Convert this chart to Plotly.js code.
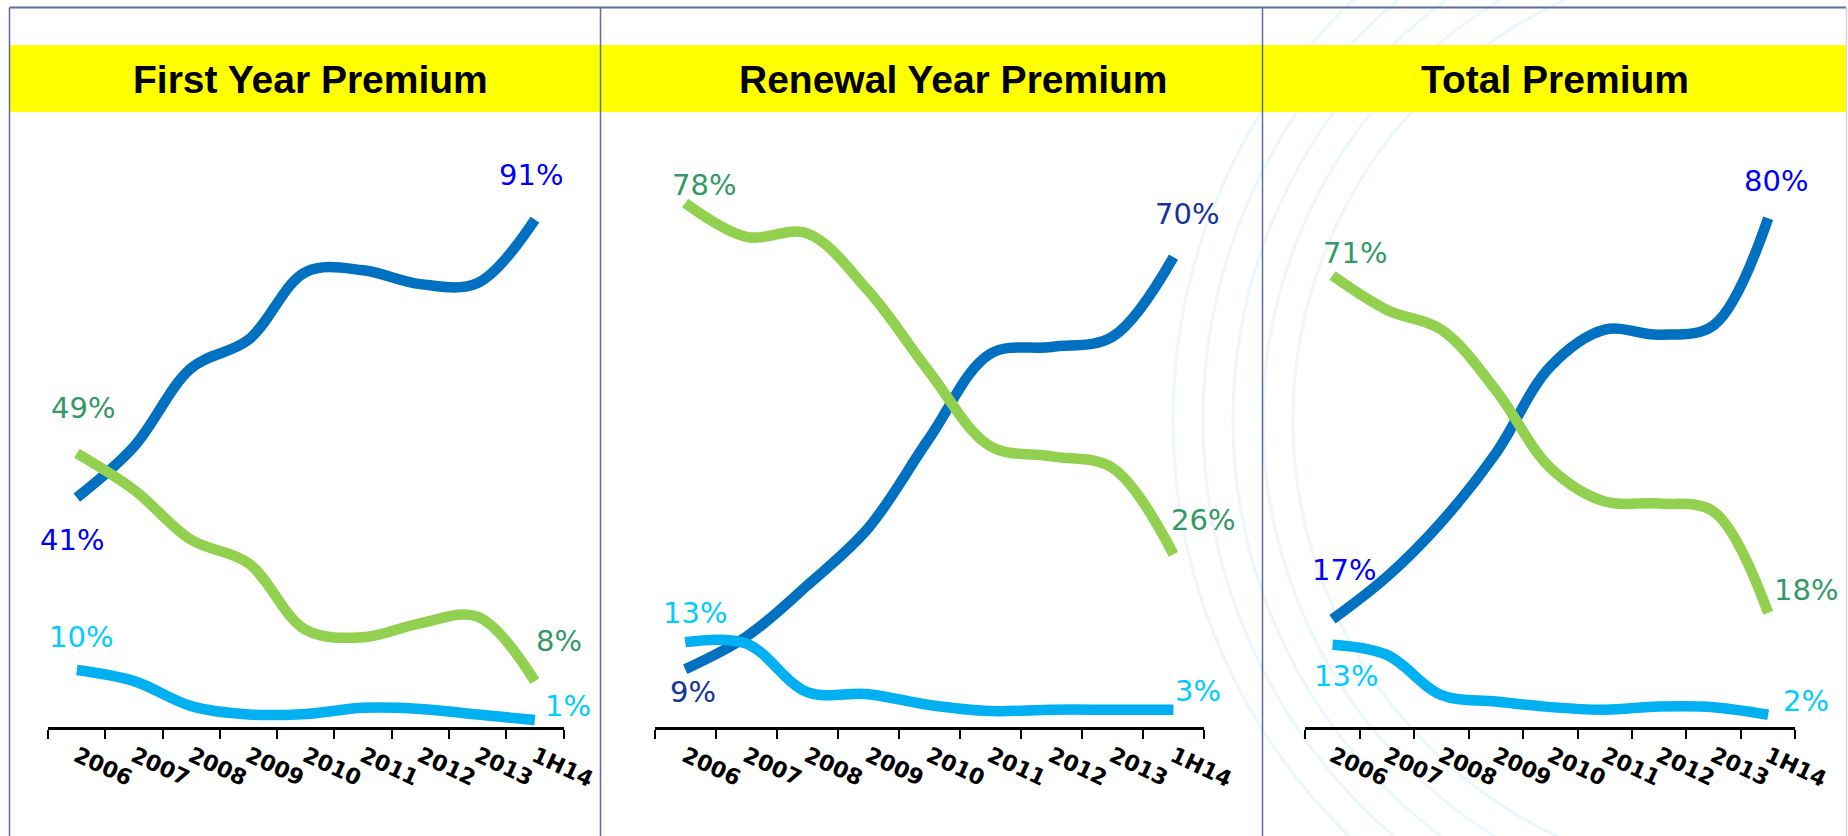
<!DOCTYPE html>
<html>
<head>
<meta charset="utf-8">
<script src="https://cdn.plot.ly/plotly-3.0.1.min.js"></script>
<style>
html,body{margin:0;padding:0;background:#ffffff;}
#chart{width:1848px;height:836px;}
</style>
</head>
<body>
<div id="chart"></div>
<script>
// ---------------- DATA ----------------
const years = ['2006','2007','2008','2009','2010','2011','2012','2013','1H14'];
const panelTitles = ['First Year Premium','Renewal Year Premium','Total Premium'];

// First Year Premium (share, %)
const fypBlue  = [41, 50.2, 64.3, 69.4, 81.6, 81.9, 79.4, 79.6, 91];
const fypGreen = [49, 42.4, 33.4, 29.2, 17.2, 15.9, 18.4, 19.6, 8];
const fypCyan  = [10, 8.0, 3.5, 2.0, 2.1, 3.2, 3.0, 2.0, 1];

// Renewal Year Premium (share, %)
const rypBlue  = [9, 13.8, 21.4, 29.9, 43.2, 55.7, 56.7, 58.2, 70];
const rypGreen = [78, 73.0, 73.5, 65.0, 53.0, 42.0, 40.5, 38.8, 26];
const rypCyan  = [13, 12.8, 5.6, 5.3, 3.7, 2.8, 3.0, 3.0, 3];

// Total Premium (share, %)
const tpBlue  = [17, 23.7, 32.3, 43.1, 56.7, 62.5, 61.7, 63.2, 80];
const tpGreen = [71, 65.6, 62.5, 53.0, 40.8, 35.5, 35.2, 33.9, 18];
const tpCyan  = [13, 11.4, 5.1, 4.1, 3.2, 2.8, 3.3, 3.2, 2];

// ---------------- STYLE / LAYOUT ----------------
const W = 1848, H = 836;
const px = x => x / W;
const py = y => 1 - y / H;

const lineColors = {blue:'#0070C0', green:'#92D050', cyan:'#00B0F0'};
const panels = [
  {title: panelTitles[0], series:{blue:fypBlue, green:fypGreen, cyan:fypCyan},
   xdom:[48.2, 563.5], yrange:[-0.25, 107.12], titleX:310,
   labelColor:{blue:'#0000FF', green:'#339966', cyan:'#00CCFF'},
   offsets:{ blue:[[-5,-42],[-4,45]], green:[[6,45],[24,40]], cyan:[[4,33],[33,14]] }},
  {title: panelTitles[1], series:{blue:rypBlue, green:rypGreen, cyan:rypCyan},
   xdom:[654.7, 1204], yrange:[0.44, 88.81], titleX:953.5,
   labelColor:{blue:'#14339C', green:'#339966', cyan:'#00CCFF'},
   offsets:{ blue:[[8,-23],[14,43]], green:[[19,18],[30,34]], cyan:[[10,29],[25,19]] }},
  {title: panelTitles[2], series:{blue:tpBlue, green:tpGreen, cyan:tpCyan},
   xdom:[1305.3, 1795.4], yrange:[0.08, 93.87], titleX:1555,
   labelColor:{blue:'#0000FF', green:'#339966', cyan:'#00CCFF'},
   offsets:{ blue:[[11,49],[8,37]], green:[[22,23],[38,23]], cyan:[[13,-31],[38,14]] }}
];

const plotTop = 130, plotBottom = 727;
const traces = [];
const annotations = [];
const layout = {
  width: W, height: H,
  margin: {l:0, r:0, t:0, b:0},
  paper_bgcolor: '#ffffff',
  plot_bgcolor: 'rgba(0,0,0,0)',
  showlegend: false,
  shapes: [],
  annotations: annotations
};

// faint watermark arcs
[460, 490, 520, 550, 580].forEach(r => {
  const cx = 1753, cy = 420;
  layout.shapes.push({type:'circle', xref:'paper', yref:'paper', layer:'below',
    x0:px(cx - r), x1:px(cx + r), y0:py(cy + r), y1:py(cy - r),
    line:{color:'rgba(200,228,248,0.35)', width:3}});
});
// yellow title band
layout.shapes.push({type:'rect', xref:'paper', yref:'paper', layer:'below',
  x0:px(10), x1:px(1846), y0:py(112), y1:py(45),
  fillcolor:'#FFFF00', line:{width:0}});
// frame lines
const frameColor = '#5E6E9E';
layout.shapes.push({type:'rect', xref:'paper', yref:'paper', layer:'below',
  x0:px(1847), x1:px(1848), y0:py(836), y1:py(0), fillcolor:'#ffffff', line:{width:0}});
layout.shapes.push({type:'line', xref:'paper', yref:'paper', layer:'below',
  x0:px(9.5), x1:px(1846), y0:py(7.5), y1:py(7.5), line:{color:frameColor, width:1.8}});
[9.5, 600.5, 1262.5].forEach(x => {
  layout.shapes.push({type:'line', xref:'paper', yref:'paper', layer:'below',
    x0:px(x), x1:px(x), y0:py(7.5), y1:py(836), line:{color:frameColor, width:1.5}});
});
layout.shapes.push({type:'line', xref:'paper', yref:'paper', layer:'below',
  x0:px(1846.5), x1:px(1846.5), y0:py(7.5), y1:py(836), line:{color:'#D4D6DE', width:1.5}});

const order = ['blue','green','cyan'];
panels.forEach((p, i) => {
  const n = i === 0 ? '' : String(i + 1);
  const xa = 'x' + n, ya = 'y' + n;
  order.forEach(key => {
    traces.push({
      type:'scatter', mode:'lines', x:years, y:p.series[key],
      xaxis:xa, yaxis:ya, hoverinfo:'skip',
      line:{color:lineColors[key], width:10.5, shape:'spline', smoothing:1}
    });
    const vals = p.series[key];
    const ends = [0, vals.length - 1];
    ends.forEach((idx, k) => {
      annotations.push({
        xref:xa, yref:ya, x:idx, y:vals[idx],
        text: Math.round(vals[idx]) + '%', showarrow:false,
        xanchor:'center', yanchor:'middle',
        xshift:p.offsets[key][k][0], yshift:p.offsets[key][k][1],
        font:{family:'DejaVu Sans, Verdana, sans-serif', size:29, color:p.labelColor[key]}
      });
    });
  });
  layout['xaxis' + n] = {
    domain:[px(p.xdom[0]), px(p.xdom[1])], anchor:ya,
    type:'category', categoryorder:'array', categoryarray:years,
    range:[-0.5, years.length - 0.5],
    showline:true, linecolor:'#000000', linewidth:3,
    ticks:'outside', tickson:'boundaries', ticklen:9, tickwidth:2, tickcolor:'#000000',
    tickangle:25, ticklabelstandoff:5,
    tickfont:{family:'DejaVu Sans, Verdana, sans-serif', size:22, color:'#000000', weight:'bold'},
    showgrid:false, zeroline:false, fixedrange:true
  };
  layout['yaxis' + n] = {
    domain:[py(plotBottom), py(plotTop)], anchor:xa,
    range:p.yrange, visible:false, showgrid:false, zeroline:false, fixedrange:true
  };
  annotations.push({
    xref:'paper', yref:'paper', x:px(p.titleX), y:py(79),
    text:'<b>' + p.title + '</b>', showarrow:false,
    xanchor:'center', yanchor:'middle',
    font:{family:'Liberation Sans, Arial, sans-serif', size:39, color:'#000000'}
  });
});

Plotly.newPlot('chart', traces, layout, {displayModeBar:false, staticPlot:true});
</script>
</body>
</html>
